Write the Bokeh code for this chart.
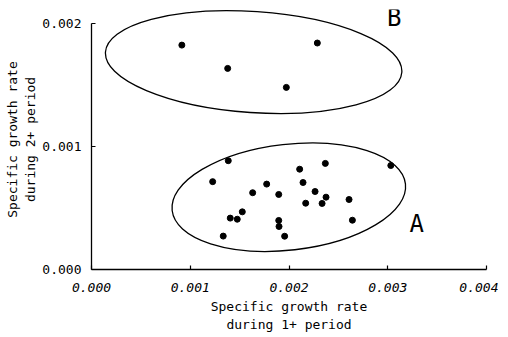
from bokeh.plotting import figure
from bokeh.models import Range1d, FixedTicker, NumeralTickFormatter, Label
from bokeh.embed import file_html
from bokeh.resources import INLINE

# Group A (lower cluster)
a_x = [0.001385, 0.001227, 0.001774, 0.001632, 0.001527, 0.001405, 0.001476, 0.001334,
       0.002368, 0.003031, 0.002108, 0.002142, 0.001896, 0.002264, 0.002375, 0.002169,
       0.002335, 0.002608, 0.001896, 0.001899, 0.002642, 0.001956]
a_y = [0.000883, 0.000713, 0.000693, 0.000623, 0.000468, 0.000417, 0.000408, 0.000271,
       0.000861, 0.000844, 0.000814, 0.000706, 0.000609, 0.000633, 0.000587, 0.000538,
       0.000536, 0.000568, 0.000398, 0.000349, 0.000400, 0.000270]
# Group B (upper cluster)
b_x = [0.000915, 0.002287, 0.001379, 0.001973]
b_y = [0.001821, 0.001838, 0.001632, 0.001478]

# Enclosing ellipses: centre, width, height (data units), angle (rad)
ell_x = [0.001998, 0.001642]
ell_y = [0.000587, 0.001683]
ell_w = [0.002378, 0.003008]
ell_h = [0.000859, 0.000820]
ell_angle = [0.114, -0.068]

group_names = ["A", "B"]
group_lx = [0.003294, 0.003065]
group_ly = [0.000370, 0.002045]

x_ticks = [0.0, 0.001, 0.002, 0.003, 0.004]
y_ticks = [0.0, 0.001, 0.002]

x_label = "Specific growth rate\nduring 1+ period"
y_label = "Specific growth rate\nduring 2+ period"

FONT = "DejaVu Sans Mono"

p = figure(frame_width=395, frame_height=260, output_backend="svg", toolbar_location=None,
           x_range=Range1d(0, 0.004), y_range=Range1d(0, 0.00211),
           min_border_left=91, min_border_right=12, min_border_top=9, min_border_bottom=64)
p.outline_line_color = None
p.xgrid.visible = False
p.ygrid.visible = False
p.background_fill_color = "white"
p.border_fill_color = "white"

for ax, ticks in ((p.xaxis[0], x_ticks), (p.yaxis[0], y_ticks)):
    ax.ticker = FixedTicker(ticks=ticks)
    ax.formatter = NumeralTickFormatter(format="0.000")
    ax.bounds = (ticks[0], ticks[-1])
    ax.axis_line_color = "black"
    ax.axis_line_width = 1.3
    ax.major_tick_in = 4
    ax.major_tick_out = 0
    ax.major_tick_line_color = "black"
    ax.major_tick_line_width = 1.2
    ax.minor_tick_line_color = None
    ax.major_label_text_font = FONT
    ax.major_label_text_font_size = "13px"
    ax.major_label_text_color = "black"
    ax.axis_label_text_font = FONT
    ax.axis_label_text_font_size = "13px"
    ax.axis_label_text_font_style = "normal"
    ax.axis_label_text_color = "black"

p.xaxis.major_label_text_font_style = "italic"
p.xaxis.axis_label = x_label
p.yaxis.axis_label = y_label
p.xaxis.major_label_standoff = 13
p.yaxis.major_label_standoff = 10
p.xaxis.axis_label_standoff = 4
p.yaxis.axis_label_standoff = 1

p.ellipse(x=ell_x, y=ell_y, width=ell_w, height=ell_h, angle=ell_angle,
          fill_color=None, line_color="black", line_width=1.3)

p.scatter(a_x, a_y, size=6, color="black")
p.scatter(b_x, b_y, size=6, color="black")

for name, lx, ly in zip(group_names, group_lx, group_ly):
    p.add_layout(Label(x=lx, y=ly, text=name, text_align="center", text_baseline="middle",
                       text_font=FONT, text_font_size="24px", text_color="black"))

open("out.html", "w").write(file_html(p, INLINE))
